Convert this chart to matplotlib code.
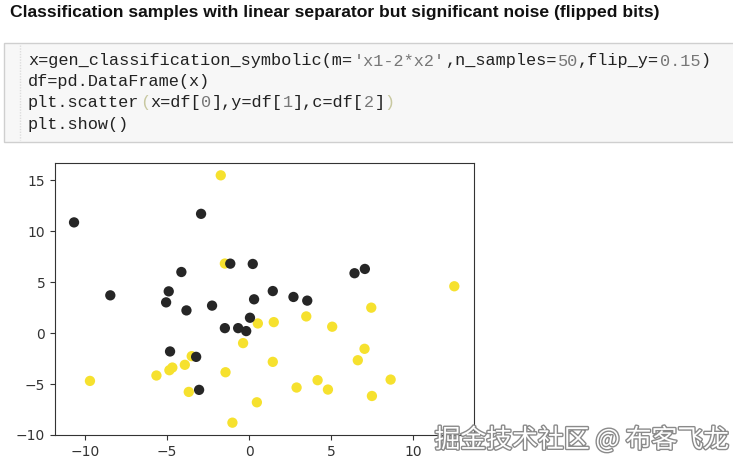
import matplotlib
matplotlib.use('Agg')
import matplotlib.pyplot as plt
import matplotlib.patheffects as pe
from matplotlib.patches import Rectangle

# points, class 0 = dark, class 1 = yellow
dark_x = [-10.67, -2.93, -8.46, -4.13, -4.9, -5.06, -3.82, -2.26, -1.15, -1.48, -0.67, -0.18,
          0.05, -4.82, -3.23, -3.05, 0.22, 1.44, 0.3, 2.7, 3.54, 6.42, 7.05]
dark_y = [10.87, 11.71, 3.71, 6.0, 4.1, 3.02, 2.23, 2.7, 6.82, 0.49, 0.49, 0.2,
          1.51, -1.8, -2.33, -5.57, 6.79, 4.13, 3.32, 3.55, 3.19, 5.88, 6.3]
yel_x = [-1.73, -1.48, -9.7, -5.65, -4.86, -4.68, -3.92, -3.5, -3.68, -1.44, -1.02, -0.37, 0.53,
         1.5, 3.48, 5.06, 7.44, 12.5, 7.03, 6.62, 1.44, 4.17, 4.8, 2.89, 8.62, 7.48, 0.47]
yel_y = [15.49, 6.83, -4.69, -4.16, -3.64, -3.38, -3.11, -2.26, -5.77, -3.84, -8.79, -0.98, 0.95,
         1.08, 1.64, 0.63, 2.5, 4.6, -1.54, -2.66, -2.82, -4.62, -5.54, -5.34, -4.56, -6.17, -6.79]

title = "Classification samples with linear separator but significant noise (flipped bits)"
# each code line as (text, colour) pieces
code_lines = [
    [("x=gen_classification_symbolic(m=", "#222222"), ("'x1-2*x2'", "#777777"),
     (",n_samples=", "#222222"), ("50", "#777777"), (",flip_y=", "#222222"),
     ("0.15", "#777777"), (")", "#222222")],
    [("df=pd.DataFrame(x)", "#222222")],
    [("plt.scatter", "#222222"), ("(", "#c8c8a0"), ("x=df[", "#222222"), ("0", "#777777"),
     ("],y=df[", "#222222"), ("1", "#777777"), ("],c=df[", "#222222"), ("2", "#777777"),
     ("]", "#222222"), (")", "#c8c8a0")],
    [("plt.show()", "#222222")],
]

W, H = 733, 472
fig = plt.figure(figsize=(W / 100, H / 100), dpi=100)

def fx(px):
    return px / W

def fy(py):
    return 1 - py / H

fig.text(fx(10), fy(13), title, fontsize=12.6, fontweight='bold',
         family='Liberation Sans', va='center', ha='left', color='#111111')

# code cell
fig.patches.append(Rectangle((fx(4), fy(142)), fx(740) - fx(4), fy(43) - fy(142),
                             transform=fig.transFigure, facecolor='#f7f7f7',
                             edgecolor='#cfcfcf', linewidth=1))
fig.add_artist(plt.Line2D([fx(20), fx(20)], [fy(45), fy(140)], transform=fig.transFigure,
                          color='#dddddd', linewidth=1, linestyle=(0, (1, 1))))
cw = 10.19
line_y = [61, 81.5, 102.5, 124]
for pieces, ly in zip(code_lines, line_y):
    col = 0
    for txt, c in pieces:
        fig.text(fx(28 + col * cw), fy(ly), txt, fontsize=12.2, family='Liberation Mono',
                 va='center', ha='left', color=c)
        col += len(txt)

# scatter plot
ax = fig.add_axes([fx(55), fy(435), fx(474) - fx(55), fy(163) - fy(435)])
ax.scatter(yel_x, yel_y, s=55, color='#f6e12e', edgecolors='none')
ax.scatter(dark_x, dark_y, s=55, color='#262626', edgecolors='none')
ax.set_xlim(-11.83, 13.7)
ax.set_ylim(-9.95, 16.7)
ax.set_xticks([-10, -5, 0, 5, 10])
ax.set_yticks([-10, -5, 0, 5, 10, 15])
ax.tick_params(labelsize=10, colors='#333333')
for sp in ax.spines.values():
    sp.set_color('#333333')

fig.text(fx(582), fy(440), "掘金技术社区 @ 布客飞龙", fontsize=18.6, ha='center', va='center',
         family=['Noto Sans CJK SC', 'DejaVu Sans'], color='white',
         path_effects=[pe.withStroke(linewidth=2, foreground='#8a8a8a')])

fig.savefig('out.png', dpi=100)
